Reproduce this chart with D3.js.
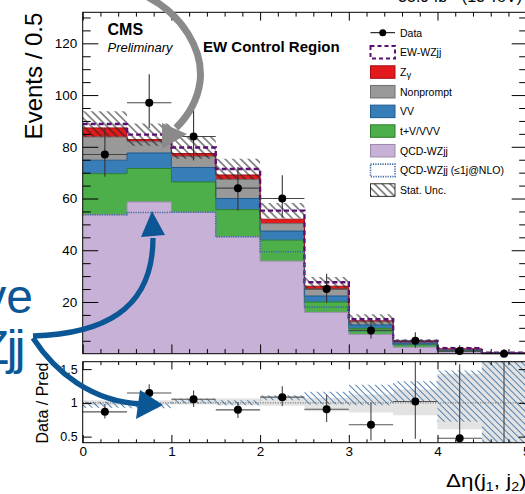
<!DOCTYPE html>
<html><head><meta charset="utf-8">
<script src="https://cdn.jsdelivr.net/npm/d3@7/dist/d3.min.js"></script>
<style>
body{margin:0;background:#fff;overflow:hidden;}
svg{display:block;font-family:"Liberation Sans",Arial,Helvetica,sans-serif;}
</style>
</head><body>
<svg id="c" width="525" height="494"></svg>
<script>
// ---------------- data ----------------
const binEdges = [0,0.5,1,1.5,2,2.5,3,3.5,4,4.5,5];
const qcdWZjj   = [53.7,58.7,54.7,45.2,35.8,16.0,7.5,2.5,0.7,0.15];
const tVVVV     = [15.9,12.9,11.7,10.5,8.1,4.0,2.3,1.0,0.4,0.05];
const vv        = [5.2,6.0,5.6,4.3,3.5,2.3,1.3,0.5,0.3,0.05];
const nonprompt = [9.0,4.4,4.3,7.4,2.9,2.6,1.3,0.4,0.3,0.05];
const zgamma    = [3.5,0.8,1.1,1.7,1.7,1.2,0.3,0.3,0.2,0.02];
const ewWZjj    = [1.5,1.9,2.3,2.3,3.3,1.5,0.6,0.2,0.2,0.03];
const statUnc   = [4.9,4.3,4.3,4.0,3.0,2.1,2.0,0.7,0.6,0.3];
const qcdNLO    = [53.7,54.6,54.7,45.2,39.4,18.0,8.9,3.5,1.3,0.2];
const dataVals  = [77,97,84,64,60,25,9,5,1,0];
const dataUp    = [10.3,11.0,10.3,8.2,9.0,5.9,4.4,3.3,2.3,1.8];
const dataDn    = [8.6,9.7,9.3,8.6,7.4,5.2,3.1,2.7,0.8,0];
const ratioGrayLo  = [0.966,0.976,0.976,0.966,0.956,0.877,0.858,0.818,0.61,0.30];
const ratioGrayHi  = [1.04,1.04,1.065,1.065,1.089,1.074,1.124,1.198,1.43,1.70];
const ratioHatchLo = [0.926,0.92,0.99,0.966,1.04,0.976,0.966,1.015,0.72,0.30];
const ratioHatchHi = [1.015,0.99,1.065,1.04,1.114,1.163,1.27,1.32,1.48,1.70];
const yMainTicks = [20,40,60,80,100,120];
const yRatioTicks = [0.5,1,1.5];
const xTicks = [0,1,2,3,4,5];

const keys = ["qcd","tvvv","vv","np","zg","ew"];
const colors = {qcd:"#c8b1d6",tvvv:"#4daf4a",vv:"#377eb8",np:"#999999",zg:"#e31a1c",ew:"none"};
const edgeCol = {qcd:"#9e8bb0",tvvv:"#2c7d2a",vv:"#1e5a8f",np:"#6e6e6e",zg:"#a50f15",ew:"#5b0f72"};

const rows = binEdges.slice(0,-1).map((e,i)=>({x0:e,x1:binEdges[i+1],qcd:qcdWZjj[i],tvvv:tVVVV[i],vv:vv[i],np:nonprompt[i],zg:zgamma[i],ew:ewWZjj[i]}));
const stack = d3.stack().keys(keys)(rows);
const totals = rows.map((r,i)=>stack[stack.length-1][i][1]);

// ---------------- layout ----------------
const svg = d3.select("#c");
const L = 82.7, R = 526.2;
const x = d3.scaleLinear().domain([0,5]).range([L,R]);
const y = d3.scaleLinear().domain([0,132]).range([353.7,12.3]);
const yr = d3.scaleLinear().domain([0.41,1.61]).range([442.7,361.7]);

const defs = svg.append("defs");
function hatch(id,color,gap,w){
  const p = defs.append("pattern").attr("id",id).attr("patternUnits","userSpaceOnUse")
    .attr("width",gap).attr("height",gap).attr("patternTransform","rotate(-45)");
  p.append("line").attr("x1",gap/2).attr("y1",-1).attr("x2",gap/2).attr("y2",gap+1)
    .attr("stroke",color).attr("stroke-width",w);
}
hatch("hBlack","#222",5.5,1);
hatch("hBlue","#4f7fae",4.6,1);
defs.append("clipPath").attr("id","clipMain").append("rect").attr("x",L).attr("y",12.3).attr("width",R-L).attr("height",353.7-12.3);
defs.append("clipPath").attr("id","clipRatio").append("rect").attr("x",L).attr("y",361.7).attr("width",R-L).attr("height",442.7-361.7);

function stepPts(vals){ const pts=[]; vals.forEach((v,i)=>{pts.push([binEdges[i],v]);pts.push([binEdges[i+1],v]);}); return pts; }
function stepPts2(lo,hi){ const pts=[]; lo.forEach((v,i)=>{pts.push([binEdges[i],v,hi[i]]);pts.push([binEdges[i+1],v,hi[i]]);}); return pts; }

svg.append("rect").attr("width",525).attr("height",494).attr("fill","#fff");

// ---------------- main panel ----------------
const gM = svg.append("g").attr("clip-path","url(#clipMain)");
const areaM = d3.area().x(d=>x(d[0])).y0(d=>y(d[1])).y1(d=>y(d[2]));
const lineM = d3.line().x(d=>x(d[0])).y(d=>y(d[1]));
stack.forEach(layer=>{
  const k = layer.key;
  const lo = layer.map(d=>d[0]), hi = layer.map(d=>d[1]);
  if(colors[k]!=="none") gM.append("path").attr("d",areaM(stepPts2(lo,hi))).attr("fill",colors[k]);
});
stack.forEach(layer=>{
  const k = layer.key; if(k==="ew") return;
  const hi = layer.map(d=>d[1]);
  gM.append("path").attr("d",lineM(stepPts(hi))).attr("fill","none").attr("stroke",edgeCol[k]).attr("stroke-width",1);
});
gM.append("path").attr("d",areaM(stepPts2(totals.map((t,i)=>t-statUnc[i]),totals.map((t,i)=>t+statUnc[i])))).attr("fill","url(#hBlack)");
gM.append("path").attr("d",lineM(stepPts(totals))).attr("fill","none").attr("stroke",edgeCol.ew).attr("stroke-width",2.4).attr("stroke-dasharray","5,3");
gM.append("path").attr("d",lineM(stepPts(qcdNLO))).attr("fill","none").attr("stroke","#3c6aa0").attr("stroke-width",1.6).attr("stroke-dasharray","1.2,1.2");

const gD = svg.append("g");
dataVals.forEach((v,i)=>{
  const cx = x((binEdges[i]+binEdges[i+1])/2);
  gD.append("line").attr("x1",x(binEdges[i])).attr("x2",x(binEdges[i+1])).attr("y1",y(v)).attr("y2",y(v)).attr("stroke","#444").attr("stroke-width",1.1);
  gD.append("line").attr("x1",cx).attr("x2",cx).attr("y1",y(v+dataUp[i])).attr("y2",y(v-dataDn[i])).attr("stroke","#333").attr("stroke-width",1.1);
  gD.append("circle").attr("cx",cx).attr("cy",y(v)).attr("r",4).attr("fill","#000");
});

function ax(g,axis){ g.call(axis); g.select(".domain").remove(); g.selectAll(".tick line").attr("stroke","#000"); return g; }
const minorX = d3.range(0,5.001,0.2).filter(v=>Math.abs(v-Math.round(v))>1e-6);
ax(svg.append("g").attr("transform","translate(0,353.7)"),d3.axisBottom(x).tickValues(xTicks).tickSize(-9.3).tickFormat(""));
ax(svg.append("g").attr("transform","translate(0,353.7)"),d3.axisBottom(x).tickValues(minorX).tickSize(-4.7).tickFormat(""));
ax(svg.append("g").attr("transform","translate(0,12.3)"),d3.axisTop(x).tickValues(xTicks).tickSize(-8.3).tickFormat(""));
ax(svg.append("g").attr("transform","translate(0,12.3)"),d3.axisTop(x).tickValues(minorX).tickSize(-4.3).tickFormat(""));
const minorY = d3.range(5,131,5).filter(v=>v%20!==0);
const yl = ax(svg.append("g").attr("transform",`translate(${L},0)`),d3.axisLeft(y).tickValues(yMainTicks).tickSize(-15.6).tickPadding(5.5));
yl.selectAll("text").attr("font-size",13.5).attr("font-family","Liberation Sans, Arial").attr("fill","#000");
ax(svg.append("g").attr("transform",`translate(${L},0)`),d3.axisLeft(y).tickValues(minorY).tickSize(-8).tickFormat(""));
ax(svg.append("g").attr("transform",`translate(${R},0)`),d3.axisRight(y).tickValues(yMainTicks).tickSize(-14.5).tickFormat(""));
ax(svg.append("g").attr("transform",`translate(${R},0)`),d3.axisRight(y).tickValues(minorY).tickSize(-7).tickFormat(""));
svg.append("rect").attr("x",L).attr("y",12.3).attr("width",R-L).attr("height",353.7-12.3).attr("fill","none").attr("stroke","#000").attr("stroke-width",1);

svg.append("text").attr("transform","translate(41.5,76) rotate(-90)").attr("text-anchor","middle").attr("font-size",24).text("Events / 0.5");
svg.append("text").attr("x",107.5).attr("y",35).attr("font-size",16).attr("font-weight","bold").text("CMS");
svg.append("text").attr("x",107.5).attr("y",51.5).attr("font-size",13).attr("font-style","italic").text("Preliminary");
svg.append("text").attr("x",203).attr("y",52).attr("font-size",15).attr("font-weight","bold").text("EW Control Region");
svg.append("text").attr("x",522).attr("y",1.5).attr("text-anchor","end").attr("font-size",16).text("35.9 fb\u207B\u00B9 (13 TeV)");

const legItems = [
  {t:"Data",type:"data"},
  {t:"EW-WZjj",type:"ew"},
  {t:"Z\u03B3",type:"fill",f:colors.zg,s:edgeCol.zg},
  {t:"Nonprompt",type:"fill",f:colors.np,s:edgeCol.np},
  {t:"VV",type:"fill",f:colors.vv,s:edgeCol.vv},
  {t:"t+V/VVV",type:"fill",f:colors.tvvv,s:edgeCol.tvvv},
  {t:"QCD-WZjj",type:"fill",f:colors.qcd,s:"#9a8aa6"},
  {t:"QCD-WZjj (\u22641j@NLO)",type:"nlo"},
  {t:"Stat. Unc.",type:"hatch"}
];
const lg = svg.append("g");
legItems.forEach((it,i)=>{
  const cy = 32.7 + i*19.67;
  const bx=370.5, bw=24.5, bh=12.5;
  if(it.type==="data"){
    lg.append("line").attr("x1",bx).attr("x2",bx+bw).attr("y1",cy).attr("y2",cy).attr("stroke","#000").attr("stroke-width",1);
    lg.append("circle").attr("cx",bx+bw/2).attr("cy",cy).attr("r",3.5);
  } else if(it.type==="ew"){
    lg.append("rect").attr("x",bx).attr("y",cy-bh/2).attr("width",bw).attr("height",bh).attr("fill","#fff").attr("stroke",edgeCol.ew).attr("stroke-width",2).attr("stroke-dasharray","4,3");
  } else if(it.type==="nlo"){
    lg.append("rect").attr("x",bx).attr("y",cy-bh/2).attr("width",bw).attr("height",bh).attr("fill","#fff").attr("stroke","#3c6aa0").attr("stroke-width",1.6).attr("stroke-dasharray","1.2,1.2");
  } else if(it.type==="hatch"){
    lg.append("rect").attr("x",bx).attr("y",cy-bh/2).attr("width",bw).attr("height",bh).attr("fill","url(#hBlack)").attr("stroke","#000").attr("stroke-width",0.8);
  } else {
    lg.append("rect").attr("x",bx).attr("y",cy-bh/2).attr("width",bw).attr("height",bh).attr("fill",it.f).attr("stroke",it.s).attr("stroke-width",1);
  }
  const tx = lg.append("text").attr("x",400).attr("y",cy+3.8).attr("font-size",10.5);
  if(it.t==="Z\u03B3"){ tx.append("tspan").text("Z"); tx.append("tspan").attr("dy",2).attr("font-size",9.5).text("\u03B3"); }
  else tx.text(it.t);
});

// ---------------- ratio panel ----------------
const gR = svg.append("g").attr("clip-path","url(#clipRatio)");
const areaR = d3.area().x(d=>x(d[0])).y0(d=>yr(d[1])).y1(d=>yr(d[2]));
gR.append("path").attr("d",areaR(stepPts2(ratioGrayLo,ratioGrayHi))).attr("fill","#e3e3e3");
gR.append("path").attr("d",areaR(stepPts2(ratioHatchLo,ratioHatchHi))).attr("fill","url(#hBlue)");
gR.append("line").attr("x1",L).attr("x2",R).attr("y1",yr(1)).attr("y2",yr(1)).attr("stroke","#555").attr("stroke-width",1).attr("stroke-dasharray","1,1.5");
dataVals.forEach((v,i)=>{
  const t = totals[i];
  const r = v/t, up = dataUp[i]/t, dn = dataDn[i]/t;
  const cx = x((binEdges[i]+binEdges[i+1])/2);
  gR.append("line").attr("x1",x(binEdges[i])).attr("x2",x(binEdges[i+1])).attr("y1",yr(r)).attr("y2",yr(r)).attr("stroke","#555").attr("stroke-width",1.1);
  gR.append("line").attr("x1",cx).attr("x2",cx).attr("y1",yr(r+up)).attr("y2",yr(r-dn)).attr("stroke","#444").attr("stroke-width",1.1);
  gR.append("circle").attr("cx",cx).attr("cy",yr(r)).attr("r",4).attr("fill","#000");
});
ax(svg.append("g").attr("transform","translate(0,442.7)"),d3.axisBottom(x).tickValues(xTicks).tickSize(-7.7).tickPadding(4).tickFormat(d3.format("d")))
  .selectAll("text").attr("font-size",13.5).attr("font-family","Liberation Sans, Arial").attr("fill","#000");
ax(svg.append("g").attr("transform","translate(0,442.7)"),d3.axisBottom(x).tickValues(minorX).tickSize(-3.4).tickFormat(""));
ax(svg.append("g").attr("transform","translate(0,361.7)"),d3.axisTop(x).tickValues(xTicks).tickSize(-7.7).tickFormat(""));
ax(svg.append("g").attr("transform","translate(0,361.7)"),d3.axisTop(x).tickValues(minorX).tickSize(-3.4).tickFormat(""));
ax(svg.append("g").attr("transform",`translate(${L},0)`),d3.axisLeft(yr).tickValues(yRatioTicks).tickSize(-9).tickPadding(5).tickFormat(d=>d===1?"1":d))
  .selectAll("text").attr("font-size",12.5).attr("font-family","Liberation Sans, Arial").attr("fill","#000");
ax(svg.append("g").attr("transform",`translate(${R},0)`),d3.axisRight(yr).tickValues(yRatioTicks).tickSize(-7.5).tickFormat(""));
svg.append("rect").attr("x",L).attr("y",361.7).attr("width",R-L).attr("height",442.7-361.7).attr("fill","none").attr("stroke","#000").attr("stroke-width",1);
svg.append("text").attr("transform","translate(48,403) rotate(-90)").attr("text-anchor","middle").attr("font-size",16).text("Data / Pred");
const xt = svg.append("text").attr("transform","translate(446,487) scale(1.18,1)").attr("font-size",19);
xt.append("tspan").text("\u0394\u03B7(j");
xt.append("tspan").attr("font-size",12).attr("dy",4).text("1");
xt.append("tspan").attr("dy",-4).text(", j");
xt.append("tspan").attr("font-size",12).attr("dy",4).text("2");
xt.append("tspan").attr("dy",-4).text(")");

// ---------------- annotations ----------------
const ann = svg.append("g");
ann.append("path").attr("d","M146,-4 C182,14 204,50 200,82 C197,104 186,118 176,128").attr("fill","none").attr("stroke","#8a8a8a").attr("stroke-width",7);
ann.append("path").attr("d","M162,149 L162,123 L187,134 Z").attr("fill","#8a8a8a");
const blue = "#0b5796";
ann.append("path").attr("d","M33,336 C100,334 153,312 153,238").attr("fill","none").attr("stroke",blue).attr("stroke-width",5.3);
ann.append("path").attr("d","M152,211 L141,237 L165,235 Z").attr("fill",blue);
ann.append("path").attr("d","M33,338 C55,372 92,402 142,404").attr("fill","none").attr("stroke",blue).attr("stroke-width",5.3);
ann.append("path").attr("d","M163,405 L140,390 L136,419 Z").attr("fill",blue);
ann.append("text").attr("x",33).attr("y",313).attr("text-anchor","end").attr("font-size",48).attr("fill",blue).text("ve");
ann.append("text").attr("x",23).attr("y",364).attr("text-anchor","end").attr("font-size",48).attr("letter-spacing","-2.5").attr("fill",blue).text("WZjj");
</script>
</body></html>
